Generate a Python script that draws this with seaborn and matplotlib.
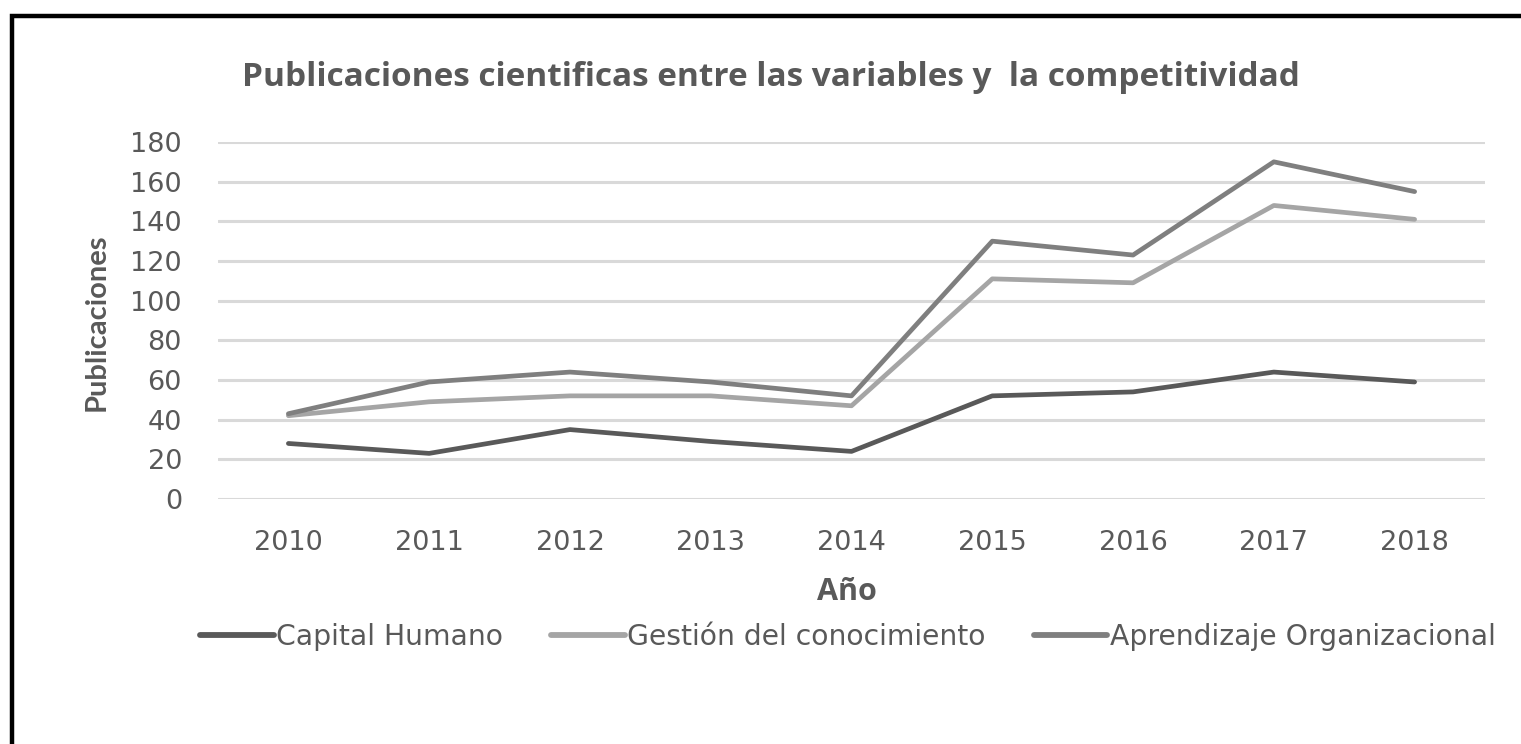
import numpy as np
import pandas as pd
import matplotlib
matplotlib.use("Agg")
import matplotlib.pyplot as plt
from matplotlib.patches import Rectangle
import seaborn as sns

# Data
years = [2010, 2011, 2012, 2013, 2014, 2015, 2016, 2017, 2018]
capital_humano = [28, 23, 35, 29, 24, 52, 54, 64, 59]
gestion_conocimiento = [42, 49, 52, 52, 47, 111, 109, 148, 141]
aprendizaje_org = [43, 59, 64, 59, 52, 130, 123, 170, 155]
series_names = ["Capital Humano", "Gestión del conocimiento", "Aprendizaje Organizacional"]
series_colors = ["#595959", "#a5a5a5", "#7f7f7f"]
y_ticks = [0, 20, 40, 60, 80, 100, 120, 140, 160, 180]

df = pd.DataFrame({
    "year": years * 3,
    "value": capital_humano + gestion_conocimiento + aprendizaje_org,
    "serie": sum([[n] * len(years) for n in series_names], []),
})

sns.set_theme(style="white")
plt.rcParams["font.family"] = ["DejaVu Sans"]
text_color = "#595959"

W, H = 1521, 744
fig = plt.figure(figsize=(W / 100, H / 100), dpi=100)
fig.patch.set_facecolor("white")

left, right, top, bottom = 218, 1485, 142, 499
ax = fig.add_axes([left / W, 1 - bottom / H, (right - left) / W, (bottom - top) / H])

sns.lineplot(data=df, x="year", y="value", hue="serie", hue_order=series_names,
             palette=dict(zip(series_names, series_colors)), linewidth=3.4,
             ax=ax, legend=True)

ax.set_xlim(years[0] - 0.5, years[-1] + 0.5)
ax.set_ylim(0, 180)
ax.set_xticks(years)
ax.set_xticklabels([str(y) for y in years])
ax.set_yticks(y_ticks)
ax.set_xlabel("")
ax.set_ylabel("")
ax.tick_params(axis="y", length=0, pad=26, labelsize=19.5, labelcolor=text_color)
ax.tick_params(axis="x", length=0, pad=22, labelsize=19.5, labelcolor=text_color)
ax.grid(axis="y", color="#d9d9d9", linewidth=2.2)
ax.set_axisbelow(True)
for s in ax.spines.values():
    s.set_visible(False)

handles, labels = ax.get_legend_handles_labels()
ax.get_legend().remove()

fig.text(771 / W, 1 - 78 / H, "Publicaciones cientificas entre las variables y  la competitividad",
         ha="center", va="center", fontsize=24, fontweight="bold", color=text_color,
         family=["Open Sans", "DejaVu Sans"])
fig.text(97 / W, 1 - 322 / H, "Publicaciones", rotation=90, ha="center", va="center",
         fontsize=21, fontweight="bold", color=text_color, family=["Lato", "DejaVu Sans"])
fig.text(847 / W, 1 - 592 / H, "Año", ha="center", va="center",
         fontsize=22, fontweight="bold", color=text_color, family=["Open Sans", "DejaVu Sans"])

leg = fig.legend(handles, labels, loc="center", bbox_to_anchor=(848 / W, 1 - 637 / H),
                 ncol=3, frameon=False, fontsize=20.3, handlelength=2.6,
                 handletextpad=0.1, columnspacing=1.7)
for t in leg.get_texts():
    t.set_color(text_color)
for h in leg.legend_handles:
    h.set_linewidth(4.2)

# black frame around the chart (right and bottom fall outside the picture)
fig.patches.append(Rectangle((12 / W, -0.1), 1.2, 1.1 - 16 / H,
                             transform=fig.transFigure, fill=False,
                             edgecolor="black", linewidth=3.2, zorder=10))

fig.savefig("out.png", dpi=100, facecolor="white")
